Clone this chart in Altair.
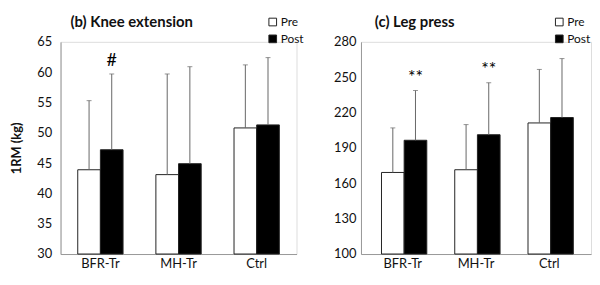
import altair as alt
import pandas as pd

groups = ["BFR-Tr", "MH-Tr", "Ctrl"]
phases = ["Pre", "Post"]

# (b) Knee extension: means and upper ends of error bars (kg)
ke_pre = [43.9, 43.1, 50.8]
ke_post = [47.2, 44.9, 51.3]
ke_pre_top = [55.3, 59.7, 61.2]
ke_post_top = [59.7, 60.9, 62.4]
ke_pre_sig = ["", "", ""]
ke_post_sig = ["#", "", ""]

# (c) Leg press
lp_pre = [169.2, 171.5, 211.2]
lp_post = [196.5, 201.2, 215.8]
lp_pre_top = [207.0, 209.8, 256.6]
lp_post_top = [238.7, 245.3, 265.8]
lp_pre_sig = ["", "", ""]
lp_post_sig = ["**", "**", ""]

FONT = "Lato"


def make_df(pre, post, pre_top, post_top, pre_sig, post_sig):
    rows = []
    for i, g in enumerate(groups):
        rows.append(dict(group=g, phase="Pre", mean=pre[i], top=pre_top[i], sig=pre_sig[i]))
        rows.append(dict(group=g, phase="Post", mean=post[i], top=post_top[i], sig=post_sig[i]))
    return pd.DataFrame(rows)


def panel(df, title, ymin, ymax, step, ytitle, width, po, label_pad, title_dx, legend_x):
    x = alt.X("group:N", sort=groups,
              scale=alt.Scale(paddingInner=0.42, paddingOuter=po),
              axis=alt.Axis(title=None, labelAngle=0, ticks=False, labelPadding=4,
                            labelFontSize=13, labelFont=FONT, labelColor="#111",
                            domainColor="#999"))
    xo = alt.XOffset("phase:N", sort=phases, scale=alt.Scale(paddingInner=0, paddingOuter=0))
    yscale = alt.Scale(domain=[ymin, ymax], nice=False, zero=False)
    ticks = list(range(ymin, ymax + 1, step))
    yaxis = alt.Axis(values=ticks, tickCount=len(ticks), ticks=False, grid=False,
                     labelPadding=label_pad, labelOverlap=False,
                     labelFontSize=13, labelFont=FONT, labelColor="#111", domainColor="#999",
                     title=ytitle if ytitle else None, titleFont=FONT, titleFontSize=13,
                     titleFontWeight="bold", titlePadding=13, titleColor="#111")
    base = alt.Chart(df)
    bars = base.mark_bar(stroke="#222", strokeWidth=1).encode(
        x=x, xOffset=xo,
        y=alt.Y("mean:Q", scale=yscale, axis=yaxis),
        y2=alt.datum(ymin),
        fill=alt.Fill("phase:N", sort=phases,
                      scale=alt.Scale(domain=phases, range=["white", "black"]),
                      legend=alt.Legend(title=None, orient="none", legendX=legend_x, legendY=-26,
                                        symbolType="square", symbolSize=60,
                                        symbolStrokeColor="#222", symbolStrokeWidth=1,
                                        labelFont=FONT, labelFontSize=12, labelColor="#111",
                                        rowPadding=5, labelOffset=2)),
    )
    err = base.mark_rule(color="#666", strokeWidth=1).encode(
        x=x, xOffset=xo, y=alt.Y("mean:Q", scale=yscale, axis=yaxis), y2="top:Q")
    cap = base.mark_tick(orient="horizontal", size=5, thickness=1, color="#666").encode(
        x=x, xOffset=xo, y=alt.Y("top:Q", scale=yscale, axis=yaxis))
    sig = base.mark_text(font=FONT, fontSize=18, baseline="alphabetic", dy=-8, color="#000").encode(
        x=x, xOffset=xo, y=alt.Y("top:Q", scale=yscale, axis=yaxis), text="sig:N")
    return alt.layer(bars, err, cap, sig).properties(
        width=width, height=214,
        title=alt.TitleParams(title, anchor="start", frame="group", dx=title_dx, offset=-14,
                              font=FONT, fontSize=15, fontWeight="bold", color="#111"),
    )


left = panel(make_df(ke_pre, ke_post, ke_pre_top, ke_post_top, ke_pre_sig, ke_post_sig),
             "(b) Knee extension", 30, 65, 5, "1RM (kg)", 238, 0.22, 9, 10, 208)
right = panel(make_df(lp_pre, lp_post, lp_pre_top, lp_post_top, lp_pre_sig, lp_post_sig),
              "(c) Leg press", 100, 280, 30, None, 232, 0.28, 5, 14, 194)

chart = alt.hconcat(left, right, spacing=27).resolve_legend(fill="independent").resolve_scale(
    y="independent").properties(padding={"left": 2, "top": 5, "right": 0, "bottom": 0}
).configure_view(stroke=None).configure(background="white")

chart.save("out.html", embed_options={"renderer": "svg", "actions": False})
